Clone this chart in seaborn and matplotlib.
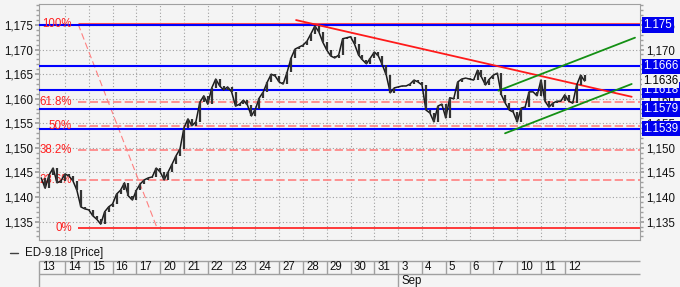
import numpy as np
import pandas as pd
import matplotlib
matplotlib.use("Agg")
import matplotlib.pyplot as plt
import seaborn as sns
from matplotlib.ticker import MultipleLocator, FuncFormatter
from matplotlib.lines import Line2D

# ---------------- data ----------------
day_labels = ['13', '14', '15', '16', '17', '20', '21', '22', '23', '24', '27', '28',
              '29', '30', '31', '3', '4', '5', '6', '7', '10', '11', '12']
month_labels = {15: 'Sep'}
bars_per_day = 6

close = [
    1.1439, 1.1418, 1.1445, 1.1459, 1.1429, 1.1433,   # 13
    1.1447, 1.1443, 1.1433, 1.1414, 1.1380, 1.1376,   # 14
    1.1374, 1.1362, 1.1355, 1.1345, 1.1370, 1.1380,   # 15
    1.1386, 1.1406, 1.1414, 1.1429, 1.1402, 1.1394,   # 16
    1.1414, 1.1427, 1.1435, 1.1439, 1.1441, 1.1459,   # 17
    1.1451, 1.1435, 1.1451, 1.1467, 1.1484, 1.1498,   # 20
    1.1541, 1.1559, 1.1545, 1.1553, 1.1593, 1.1606,   # 21
    1.1589, 1.1622, 1.1640, 1.1626, 1.1618, 1.1624,   # 22
    1.1614, 1.1585, 1.1589, 1.1597, 1.1587, 1.1565,   # 23
    1.1579, 1.1602, 1.1614, 1.1634, 1.1650, 1.1646,   # 24
    1.1634, 1.1630, 1.1654, 1.1683, 1.1701, 1.1705,   # 27
    1.1709, 1.1717, 1.1732, 1.1748, 1.1736, 1.1715,   # 28
    1.1699, 1.1687, 1.1683, 1.1689, 1.1722, 1.1724,   # 29
    1.1726, 1.1711, 1.1689, 1.1679, 1.1671, 1.1683,   # 30
    1.1695, 1.1687, 1.1669, 1.1648, 1.1612, 1.1622,   # 31
    1.1624, 1.1626, 1.1626, 1.1630, 1.1638, 1.1634,   # 3
    1.1628, 1.1577, 1.1571, 1.1553, 1.1585, 1.1589,   # 4
    1.1561, 1.1602, 1.1600, 1.1634, 1.1640, 1.1642,   # 5
    1.1640, 1.1638, 1.1658, 1.1644, 1.1628, 1.1640,   # 6
    1.1648, 1.1652, 1.1608, 1.1591, 1.1577, 1.1573,   # 7
    1.1553, 1.1581, 1.1583, 1.1614, 1.1614, 1.1606,   # 10
    1.1638, 1.1595, 1.1583, 1.1591, 1.1595, 1.1595,   # 11
    1.1608, 1.1595, 1.1591, 1.1628, 1.1648, 1.1636,   # 12
]

levels = [1.1750, 1.1666, 1.1618, 1.1579, 1.1539]
level_labels = ['1.175', '1.1666', '1.1618', '1.1579', '1.1539']
last_price = 1.1636
last_label = '1.1636'

fib_high = 1.1752
fib_low = 1.1337
fib_ratios = [1.0, 0.618, 0.5, 0.382, 0.236, 0.0]
fib_texts = ['100%', '61.8%', '50%', '38.2%', '23.6%', '0%']
fib_anchor_pos = [1.55, 4.87]          # day positions of the high / low anchors

resist_pos = [10.71, 24.81]
resist_val = [1.1760, 1.1604]
chan_up_pos = [19.21, 24.95]
chan_up_val = [1.16164, 1.17242]
chan_lo_pos = [19.49, 24.81]
chan_lo_val = [1.15297, 1.16300]

legend_text = 'ED-9.18 [Price]'

# ---------------- style ----------------
sns.set_theme(style='white')
plt.rcParams['font.family'] = ['Liberation Sans', 'DejaVu Sans']
BG = '#f4f4f4'
GRID = '#a0a0a0'
FS = 8.3

W, H = 680, 287
fig = plt.figure(figsize=(W / 100, H / 100), dpi=100, facecolor=BG)
ax = fig.add_axes([39 / W, 47 / H, 601 / W, 236 / H])
ax.set_facecolor(BG)

xmin, xmax = -0.092, 25.16
ymin, ymax = 1.13127, 1.17927
ax.set_xlim(xmin, xmax)
ax.set_ylim(ymin, ymax)

# grid
ax.set_xticks(np.arange(1, len(day_labels)))
ax.yaxis.set_major_locator(MultipleLocator(0.005))
ax.yaxis.set_minor_locator(MultipleLocator(0.001))
ax.yaxis.set_major_formatter(FuncFormatter(lambda v, p: f"{v:.3f}".replace('.', ',')))
ax.grid(True, which='major', ls=(0, (1, 2)), color=GRID, lw=0.8)
ax.set_axisbelow(True)
ax.tick_params(axis='x', length=0, labelbottom=False)
ax.tick_params(axis='y', which='both', direction='out', color=GRID, left=True,
               right=True, labelleft=True, labelright=True, labelsize=FS, pad=1.5,
               labelcolor='#111111')
ax.tick_params(axis='y', which='major', length=3)
ax.tick_params(axis='y', which='minor', length=2)
for s in ax.spines.values():
    s.set_color(GRID)
    s.set_linewidth(0.8)

# fibonacci
rng = fib_high - fib_low
for r, t in zip(fib_ratios, fib_texts):
    v = fib_low + r * rng
    if r in (0.0, 1.0):
        ax.hlines(v, fib_anchor_pos[0], xmax, color='#ff2a2a' if r == 0 else '#ff5050',
                  lw=1.3 if r == 0 else 2.2, zorder=2)
    else:
        ax.hlines(v, fib_anchor_pos[0], xmax, color='#ff8080', lw=1.2,
                  ls=(0, (5, 2)), zorder=2)
    ax.text(fib_anchor_pos[0] - 0.27, v, t, ha='right', va='center',
            color='#ff2020', fontsize=FS, zorder=4)
ax.plot(fib_anchor_pos, [fib_high, fib_low], color='#ff8080', lw=0.8,
        ls=(0, (6, 3)), zorder=2)

# horizontal levels
for lv in levels:
    ax.axhline(lv, color='#0000ff', lw=1.5, zorder=3)

# trend lines
ax.plot(resist_pos, resist_val, color='#ff1a1a', lw=1.3, zorder=4)
ax.plot(chan_up_pos, chan_up_val, color='#149014', lw=1.3, zorder=4)
ax.plot(chan_lo_pos, chan_lo_val, color='#149014', lw=1.3, zorder=4)

# price (line + candle bodies, open = previous close)
df = pd.DataFrame({'pos': np.arange(len(close)) / bars_per_day, 'close': close})
df['open'] = df['close'].shift(1).fillna(df['close'])
sns.lineplot(data=df, x='pos', y='close', color='#1a1a1a', lw=1.1, ax=ax,
             zorder=5, legend=False)
ax.vlines(df['pos'], df['open'], df['close'], color='#333333', lw=1.6, zorder=5)
ax.set_xlabel('')
ax.set_ylabel('')

# right side labels
yt = ax.get_yaxis_transform()
for lv, lab in zip(levels, level_labels):
    ax.text(1.0055, lv, lab, transform=yt, ha='left', va='center', color='white',
            fontsize=FS, clip_on=False, zorder=6,
            bbox=dict(boxstyle='square,pad=0.15', fc='#0000ee', ec='none'))
ax.text(1.0055, last_price, last_label, transform=yt, ha='left', va='center',
        color='black', fontsize=FS, clip_on=False, zorder=6,
        bbox=dict(boxstyle='square,pad=0.08', fc=BG, ec='none'))

# legend
ly = 1 - 253 / H
fig.add_artist(Line2D([10 / W, 18 / W], [ly, ly], color='#404040', lw=1))
fig.text(25 / W, ly, legend_text, va='center', ha='left', fontsize=FS, color='#111111')

# date strip
ax2 = fig.add_axes([39 / W, 0, 601 / W, 27 / H])
ax2.set_xlim(xmin, xmax)
ax2.set_ylim(0, 27)
ax2.axis('off')
ax2.hlines([26.5, 13], xmin, xmax, color=GRID, lw=1, clip_on=False)
bounds = [xmin] + list(range(1, len(day_labels)))
for i, (b, lab) in enumerate(zip(bounds, day_labels)):
    full = (i == 0) or (i in month_labels)
    ax2.vlines(b, 0 if full else 13, 26.5, color=GRID, lw=1, clip_on=False)
    ax2.text(b + 3 / 23.8, 19.8, lab, ha='left', va='center', fontsize=FS, color='#111111')
    if i in month_labels:
        ax2.text(b + 3 / 23.8, 6.3, month_labels[i], ha='left', va='center',
                 fontsize=FS, color='#111111')

fig.savefig('out.png', dpi=100, facecolor=BG)
